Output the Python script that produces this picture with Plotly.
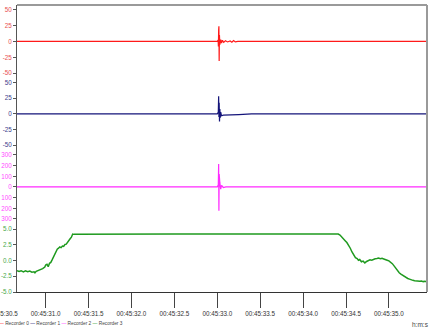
import plotly.graph_objects as go

# ---------------- data (time in seconds after 00:45:00) ----------------
series_names = ["Recorder 0", "Recorder 1", "Recorder 2", "Recorder 3"]
line_colors = ["#ff1a1a", "#14147a", "#ff2bff", "#1f9a1f"]
label_colors = ["#e85050", "#40408c", "#ff4cff", "#4aa84a"]

red_t = [30.666, 32.95, 33.000, 33.010, 33.013, 33.016, 33.019, 33.022, 33.025, 33.030,
         33.040, 33.050, 33.060, 33.075, 33.095, 33.120, 33.150, 33.170, 33.190, 33.210,
         33.240, 35.444]
red_v = [0, 0, 0, 2, -8, 18, 24, -31, 10, -5,
         3, -2.5, 2, -1.5, 1, -0.8, 0.8, -1.2, 1.5, -0.8,
         0, 0]

blue_t = [30.666, 32.95, 33.000, 33.012, 33.016, 33.019, 33.022, 33.026, 33.030, 33.035,
          33.040, 33.050, 33.070, 33.100, 33.150, 33.250, 33.400, 35.444]
blue_v = [0, 0, 0, 3, 28, -5, 18, -12, 8, -6,
          3, -3, -2, -2, -1.5, -1, 0, 0]

mag_t = [30.666, 32.95, 33.000, 33.012, 33.016, 33.019, 33.022, 33.026, 33.030, 33.040,
         33.050, 33.070, 33.100, 35.444]
mag_v = [0, 0, 0, 20, 216, -222, 120, -60, 40, -20,
         15, -5, 0, 0]

green_t = [30.666, 30.690, 30.715, 30.740, 30.765, 30.790, 30.815, 30.840, 30.865, 30.875,
           30.890, 30.915, 30.940, 30.965, 30.990, 31.000, 31.015, 31.030, 31.045, 31.060,
           31.075, 31.090, 31.105, 31.120, 31.135, 31.150, 31.165, 31.180, 31.195, 31.210,
           31.225, 31.240, 31.255, 31.270, 31.285, 31.300, 31.315, 31.330,
           31.700, 32.100, 32.500, 32.900, 33.300, 33.700, 34.100, 34.410,
           34.430, 34.450, 34.470, 34.490, 34.510, 34.530, 34.550, 34.570, 34.590, 34.610,
           34.630, 34.645, 34.660, 34.680, 34.700, 34.720, 34.740, 34.760, 34.780, 34.800,
           34.820, 34.840, 34.860, 34.880, 34.900, 34.920, 34.940, 34.960, 34.980, 35.000,
           35.020, 35.040, 35.060, 35.080, 35.100, 35.120, 35.140, 35.160, 35.180, 35.200,
           35.220, 35.240, 35.260, 35.280, 35.300, 35.320, 35.340, 35.360, 35.380, 35.400,
           35.420, 35.444]
green_v = [-1.60, -1.75, -1.62, -1.80, -1.65, -1.78, -1.68, -1.85, -1.80, -1.95,
           -1.72, -1.62, -1.45, -1.30, -1.05, -0.70, -0.60, -0.98, -0.45, -0.30,
           0.10, 0.55, 0.90, 1.45, 1.80, 1.95, 2.15, 2.05, 2.30, 2.25,
           2.55, 2.60, 2.95, 3.10, 3.45, 3.70, 4.20, 4.15,
           4.20, 4.18, 4.22, 4.20, 4.19, 4.21, 4.20, 4.20,
           4.05, 3.80, 3.55, 3.15, 2.85, 2.45, 1.95, 1.35, 0.85, 0.45,
           0.30, 0.05, 0.15, -0.20, -0.10, -0.38, -0.15, -0.05, 0.10, 0.05,
           0.22, 0.28, 0.32, 0.38, 0.30, 0.35, 0.25, 0.20, 0.05, -0.05,
           -0.25, -0.50, -0.85, -1.25, -1.60, -1.95, -2.15, -2.35, -2.55, -2.70,
           -2.85, -2.95, -3.10, -3.15, -3.20, -3.25, -3.22, -3.30, -3.25, -3.35,
           -3.30, -3.38]

x_tick_vals = [30.5, 31.0, 31.5, 32.0, 32.5, 33.0, 33.5, 34.0, 34.5, 35.0]
x_tick_text = ["00:45:30.5", "00:45:31.0", "00:45:31.5", "00:45:32.0", "00:45:32.5",
               "00:45:33.0", "00:45:33.5", "00:45:34.0", "00:45:34.5", "00:45:35.0"]
x_range = [30.666, 35.444]

red_ticks = [-50, -25, 0, 25, 50]
red_text = ["-50", "-25", "0", "25", "50"]
blue_ticks = [-50, -25, 0, 25, 50]
blue_text = ["-50", "-25", "0", "25", "50"]
mag_ticks = [-300, -200, -100, 0, 100, 200, 300]
mag_text = ["300", "200", "100", "0", "100", "200", "300"]
green_ticks = [-5, -2.5, 0, 2.5, 5]
green_text = ["-5.0", "-2.5", "0.0", "2.5", "5.0"]

x_unit_label = "h:m:s"

# ---------------- figure ----------------
FONT = "Liberation Sans"
fig = go.Figure()
all_t = [red_t, blue_t, mag_t, green_t]
all_v = [red_v, blue_v, mag_v, green_v]
yrefs = ["y4", "y3", "y2", "y"]
widths = [1.2, 1.2, 1.2, 1.5]
for name, t, v, c, yr, w in zip(series_names, all_t, all_v, line_colors, yrefs, widths):
    fig.add_trace(go.Scatter(x=t, y=v, mode="lines", name=name, yaxis=yr,
                             line=dict(color=c, width=w), showlegend=False))

def yax(domain, rng, tv, tt, col):
    return dict(domain=domain, range=rng, tickvals=tv, ticktext=tt, anchor="x",
                showline=True, linecolor="#555", linewidth=1, ticks="outside",
                ticklen=3, tickcolor="#555", showgrid=False, zeroline=False,
                tickfont=dict(family=FONT, size=6.3, color=col))

fig.update_layout(
    width=429, height=332,
    margin=dict(l=17, r=2, t=5, b=40),
    plot_bgcolor="white", paper_bgcolor="white",
    xaxis=dict(range=x_range, tickvals=x_tick_vals, ticktext=x_tick_text,
               showline=True, linecolor="#333", linewidth=1, ticks="outside",
               ticklen=15, tickcolor="#444", showgrid=False, zeroline=False,
               anchor="y", tickfont=dict(family=FONT, size=6.3, color="#333")),
    yaxis=yax([0, 0.237], [-5.0, 5.8], green_ticks, green_text, label_colors[3]),
    yaxis2=yax([0.237, 0.495], [-347, 347], mag_ticks, mag_text, label_colors[2]),
    yaxis3=yax([0.495, 0.746], [-57.5, 57.5], blue_ticks, blue_text, label_colors[1]),
    yaxis4=yax([0.746, 1.0], [-57.5, 57.5], red_ticks, red_text, label_colors[0]),
    showlegend=False,
)

# frame on top and right
fig.add_shape(type="line", xref="paper", yref="paper", x0=0, x1=1, y0=1, y1=1,
              line=dict(color="#9a9a9a", width=2))
fig.add_shape(type="line", xref="paper", yref="paper", x0=1, x1=1, y0=0, y1=1,
              line=dict(color="#9a9a9a", width=2))

# first tick label falls left of the plot area (partly outside the page, as in the source)
fx = (x_tick_vals[0] - x_range[0]) / (x_range[1] - x_range[0])
fig.add_annotation(x=fx, y=0, xref="paper", yref="paper", text=x_tick_text[0],
                   showarrow=False, xanchor="center", yanchor="top", yshift=-16,
                   font=dict(family=FONT, size=6.3, color="#333"))

# custom compact legend
parts = []
for name, c in zip(series_names, line_colors):
    parts.append(f"<span style='color:{c}'>—</span> {name}")
fig.add_annotation(x=-20 / 410, y=0, xref="paper", yref="paper", text=" ".join(parts),
                   showarrow=False, xanchor="left", yanchor="middle", yshift=-31,
                   font=dict(family=FONT, size=4.8, color="#444"))

fig.add_annotation(x=1.01, y=0, xref="paper", yref="paper", text=x_unit_label,
                   showarrow=False, xanchor="right", yanchor="middle", yshift=-32,
                   font=dict(family=FONT, size=6.5, color="#444"))

fig.write_html("out.html")
